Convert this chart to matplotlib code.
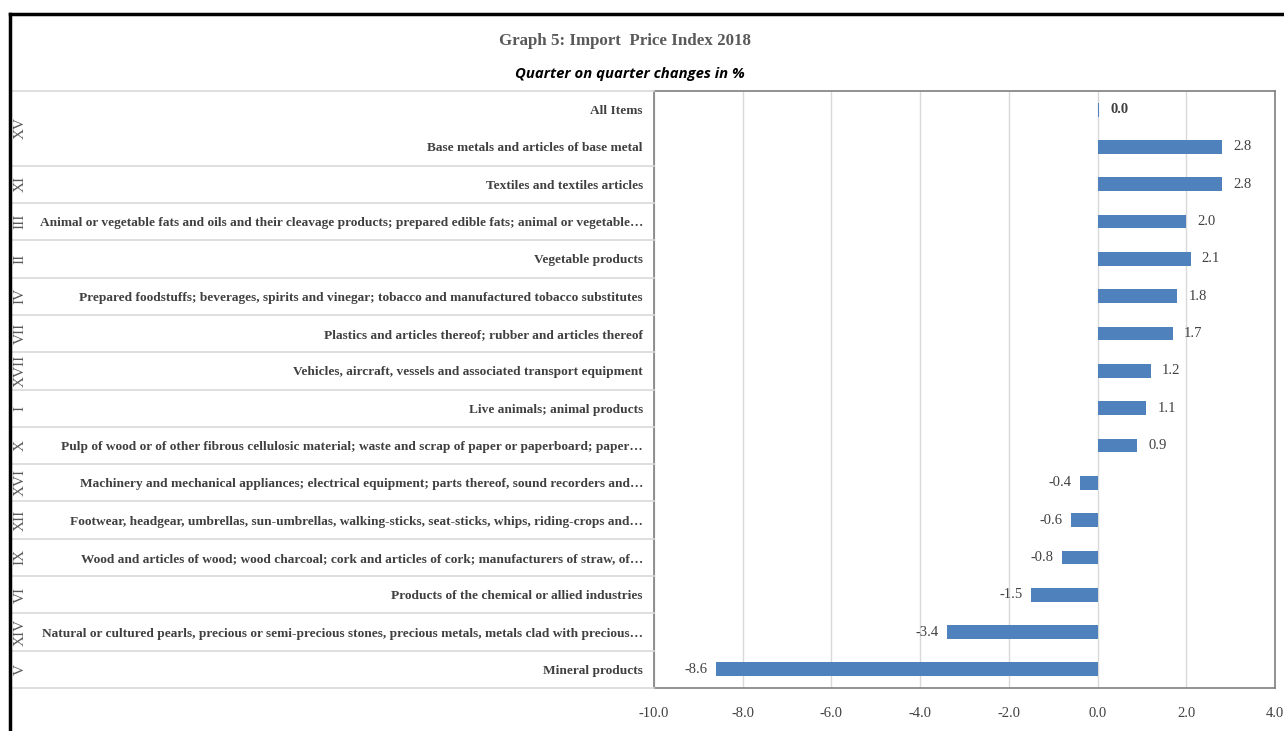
import numpy as np
import matplotlib
matplotlib.use("Agg")
import matplotlib.pyplot as plt
from matplotlib.lines import Line2D
from matplotlib.transforms import blended_transform_factory

categories = [
    "All Items",
    "Base metals and articles of base metal",
    "Textiles and textiles articles",
    "Animal or vegetable fats and oils and their cleavage products; prepared edible fats; animal or vegetable\u2026",
    "Vegetable products",
    "Prepared foodstuffs; beverages, spirits and vinegar; tobacco and manufactured tobacco substitutes",
    "Plastics and articles thereof; rubber and articles thereof",
    "Vehicles, aircraft, vessels and associated transport equipment",
    "Live animals; animal products",
    "Pulp of wood or of other fibrous cellulosic material; waste and scrap of paper or paperboard; paper\u2026",
    "Machinery and mechanical appliances; electrical equipment; parts thereof, sound recorders and\u2026",
    "Footwear, headgear, umbrellas, sun-umbrellas, walking-sticks, seat-sticks, whips, riding-crops and\u2026",
    "Wood and articles of wood; wood charcoal; cork and articles of cork; manufacturers of straw, of\u2026",
    "Products of the chemical or allied industries",
    "Natural or cultured pearls, precious or semi-precious stones, precious metals, metals clad with precious\u2026",
    "Mineral products",
]
values = [0.0, 2.8, 2.8, 2.0, 2.1, 1.8, 1.7, 1.2, 1.1, 0.9, -0.4, -0.6, -0.8, -1.5, -3.4, -8.6]
# section codes; first one spans "All Items" and "Base metals"
sections = ["XV", "XI", "III", "II", "IV", "VII", "XVII", "I", "X", "XVI", "XII", "IX", "VI", "XIV", "V"]
section_rows = [(0, 1)] + [(i, i) for i in range(2, 16)]
xticks = [-10, -8, -6, -4, -2, 0, 2, 4]

bar_color = "#4F81BD"
text_gray = "#404040"
serif = "Liberation Serif"

fig = plt.figure(figsize=(12.84, 7.31), dpi=100)
W, H = 1284, 731
ax = fig.add_axes([654 / W, 1 - 688 / H, (1275 - 654) / W, (688 - 91) / H])

y = np.arange(len(categories))
bar_vals = [v if v != 0 else 0.03 for v in values]
ax.barh(y, bar_vals, height=0.37, color=bar_color, zorder=3)
ax.set_ylim(len(categories) - 0.5, -0.5)
ax.set_xlim(-10, 4)

ax.set_xticks(xticks)
ax.set_xticklabels([f"{t:.1f}" for t in xticks], fontfamily=serif, fontsize=10.5, color=text_gray)
ax.set_yticks(y)
ax.set_yticklabels(categories, fontfamily=serif, fontsize=9.6, fontweight="bold", color=text_gray)
ax.tick_params(axis="both", length=0)
ax.tick_params(axis="y", pad=8)
ax.tick_params(axis="x", pad=14)
ax.grid(axis="x", color="#d9d9d9", lw=1, zorder=0)
ax.set_axisbelow(True)
for s in ax.spines.values():
    s.set_color("#7f7f7f")
    s.set_linewidth(1.2)

# value labels
for yi, v in zip(y, values):
    lab = f"{v:.1f}"
    if v >= 0:
        ax.annotate(lab, (max(v, 0.03), yi), xytext=(8, 0), textcoords="offset points",
                    ha="left", va="center", fontfamily=serif, fontsize=10.5, color=text_gray,
                    fontweight="bold" if v == 0 else "normal")
    else:
        ax.annotate(lab, (v, yi), xytext=(-6, 0), textcoords="offset points",
                    ha="right", va="center", fontfamily=serif, fontsize=10.5, color=text_gray)

# row separators and section codes in the label column
tr = blended_transform_factory(fig.transFigure, ax.transData)
boundaries = [-0.5] + [r[1] + 0.5 for r in section_rows]
for b in boundaries:
    fig.add_artist(Line2D([12 / W, 654 / W], [b, b], transform=tr, color="#d9d9d9", lw=1.2))
for code, (r0, r1) in zip(sections, section_rows):
    fig.text(20 / W, (r0 + r1) / 2, code, transform=tr, rotation=90, ha="center", va="center",
             fontfamily=serif, fontsize=11, color="#595959")

# titles
fig.text(625 / W, 1 - 41 / H, "Graph 5: Import  Price Index 2018", ha="center", va="center",
         fontfamily=serif, fontweight="bold", fontsize=12.2, color="#595959")
fig.text(630 / W, 1 - 74 / H, "Quarter on quarter changes in %", ha="center", va="center",
         fontfamily="Open Sans", fontweight="bold", fontstyle="italic", fontsize=10.7, color="black")

# outer frame
fig.add_artist(Line2D([10 / W, 1], [1 - 14 / H, 1 - 14 / H], color="black", lw=2.5))
fig.add_artist(Line2D([10 / W, 10 / W], [0, 1 - 14 / H], color="black", lw=2.5))

fig.savefig("out.png", dpi=100)
